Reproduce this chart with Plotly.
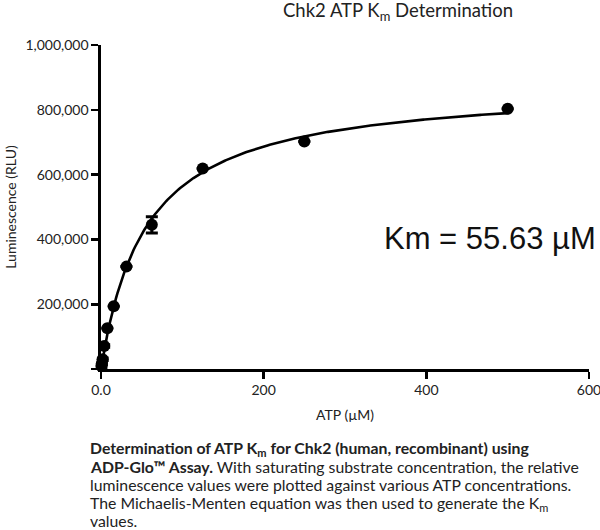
import numpy as np
import plotly.graph_objects as go

# Data
atp_um = [500, 250, 125, 62.5, 31.25, 15.63, 7.81, 3.91, 1.95, 0.98, 0.49]
lum_rlu = [803000, 702000, 619000, 445000, 316000, 194000, 126000, 71000, 30000, 17000, 9000]
lum_err = [0, 0, 0, 25000, 0, 0, 0, 4000, 4000, 4000, 4000]
km_um = 55.63

x_ticks = [0, 200, 400, 600]
x_ticktext = ["0.0", "200", "400", "600"]
y_ticks = [0, 200000, 400000, 600000, 800000, 1000000]
y_ticktext = ["", "200,000", "400,000", "600,000", "800,000", "1,000,000"]

BOLD = "<b>{}</b>"
caption_lines = [
    BOLD.format("Determination of ATP K<sub>m</sub> for Chk2 (human, recombinant) using"),
    BOLD.format("ADP-Glo™ Assay.") + " With saturating substrate concentration, the relative",
    "luminescence values were plotted against various ATP concentrations.",
    "The Michaelis-Menten equation was then used to generate the K<sub>m</sub>",
    "values.",
]

# Michaelis-Menten fit line (Km fixed, Vmax by least squares on the data)
xa = np.array(atp_um, dtype=float)
ya = np.array(lum_rlu, dtype=float)
f = xa / (km_um + xa)
vmax = float((ya * f).sum() / (f * f).sum())
xfit = np.linspace(0, max(atp_um), 300)
yfit = vmax * xfit / (km_um + xfit)

fig = go.Figure()
fig.add_trace(go.Scatter(x=xfit, y=yfit, mode="lines",
                         line=dict(color="black", width=2.6),
                         hoverinfo="skip", cliponaxis=False))
fig.add_trace(go.Scatter(x=atp_um, y=lum_rlu, mode="markers",
                         marker=dict(color="black", size=12),
                         error_y=dict(type="data", array=lum_err, color="black",
                                      thickness=3, width=6),
                         cliponaxis=False))

font_main = "Lato, 'Open Sans', sans-serif"
W, H = 600, 530
L, R, T, B = 101, 11, 45, 161
plot_w = W - L - R
plot_h = H - T - B
bottom = T + plot_h

fig.update_layout(
    width=W, height=H,
    margin=dict(l=L, r=R, t=T, b=B, autoexpand=False),
    paper_bgcolor="white", plot_bgcolor="white",
    showlegend=False,
    font=dict(family=font_main, size=14, color="#222"),
    title=dict(text="Chk2 ATP K<sub>m</sub> Determination",
               x=398 / W, xanchor="center",
               y=1 - 11 / H, yanchor="middle",
               font=dict(family=font_main, size=18.5, color="#222")),
    xaxis=dict(range=[0, 600], tickvals=x_ticks, ticktext=x_ticktext,
               showline=True, linecolor="black", linewidth=2.6,
               ticks="outside", ticklen=7, tickwidth=2.6, tickcolor="black",
               showgrid=False, zeroline=False, automargin=False,
               ticklabeloverflow="allow",
               tickfont=dict(size=14, color="#222"),
               title=dict(text="ATP (µM)", standoff=13,
                          font=dict(size=14, color="#222"))),
    yaxis=dict(range=[0, 1000000], tickvals=y_ticks, ticktext=y_ticktext,
               showline=True, linecolor="black", linewidth=2.6,
               ticks="outside", ticklen=7, tickwidth=2.6, tickcolor="black",
               showgrid=False, zeroline=False, automargin=False,
               ticklabeloverflow="allow",
               tickfont=dict(size=14, color="#222"),
               title=dict(text="Luminescence (RLU)", standoff=6,
                          font=dict(size=14, color="#222"))),
)

fig.add_annotation(text="Km = 55.63 µM", xref="paper", yref="paper",
                   x=1.018, y=(bottom - 238) / plot_h, xanchor="right", yanchor="middle",
                   showarrow=False,
                   font=dict(family="'Liberation Sans', Arial, sans-serif", size=31, color="#111"))

line_centers = [446.0, 465.0, 483.0, 501.0, 519.0]
for txt, yc in zip(caption_lines, line_centers):
    fig.add_annotation(text=txt, xref="paper", yref="paper",
                       x=(88 - L) / plot_w, y=(bottom - (yc - 10)) / plot_h,
                       xanchor="left", yanchor="top", align="left", showarrow=False,
                       font=dict(family=font_main, size=15.8, color="#222"))

fig.write_html("out.html",
               config={"displayModeBar": False, "staticPlot": True},
               post_script="document.body.style.margin='0';document.body.style.overflow='hidden';")
